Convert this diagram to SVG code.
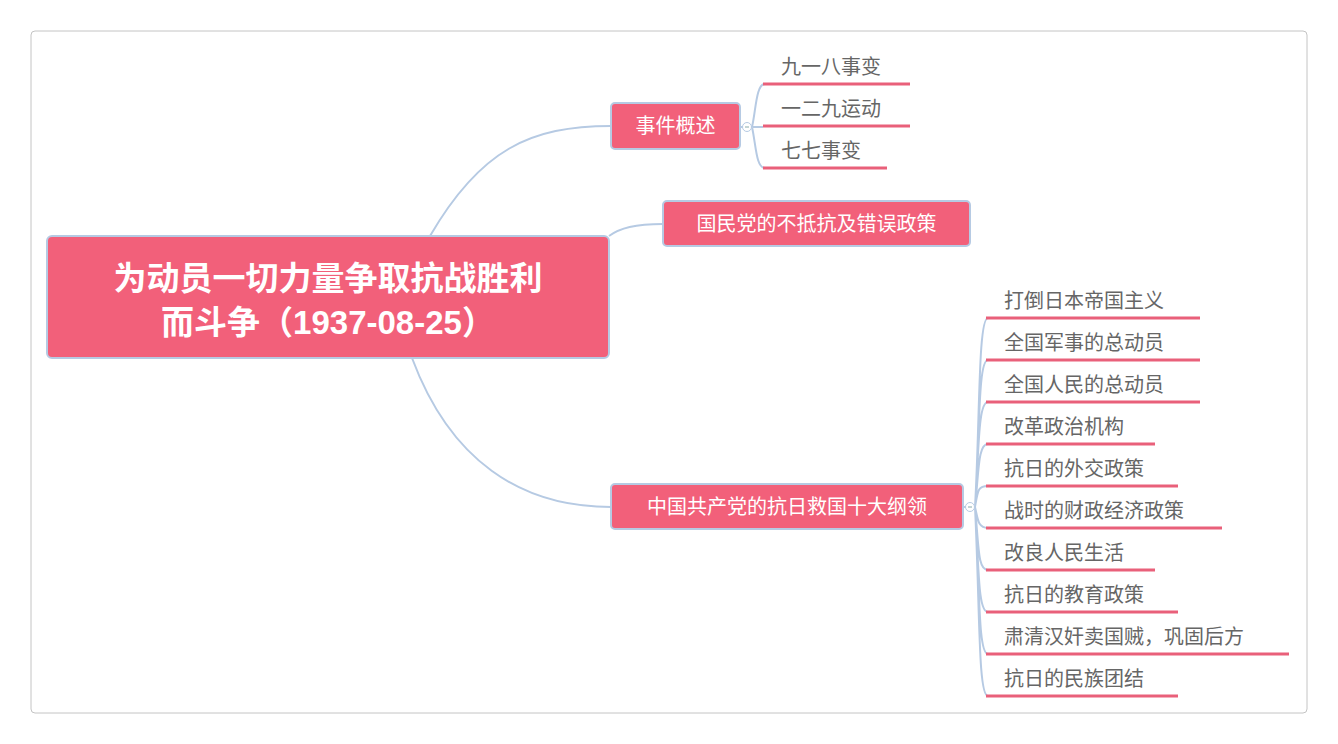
<svg xmlns="http://www.w3.org/2000/svg" width="1338" height="744" viewBox="0 0 1338 744">
<style>
.n{fill:#F2607A;stroke:#B6CAE3;stroke-width:2}
.t{font-family:"Noto Sans CJK SC","Liberation Sans",sans-serif;fill:#fff;font-size:20px}
.r{font-family:"Liberation Sans","Noto Sans CJK SC",sans-serif;fill:#fff;font-size:33px;font-weight:bold}
.l{font-family:"Noto Sans CJK SC","Liberation Sans",sans-serif;fill:#666;font-size:20px}
.u{stroke:#E9607A;stroke-width:3}
.c{fill:none;stroke:#B6CAE3;stroke-width:2}
.k{fill:#fff;stroke:#B6CAE3;stroke-width:1}
</style>
<rect x="31" y="31" width="1276" height="682" rx="4" fill="#fff" stroke="#c4c4c4"/>
<g id="connectors">
<path class="c" d="M430 236 C480 150 530 126 611 126"/>
<path class="c" d="M609 236 C620 228 635 224 663 224"/>
<path class="c" d="M412 358 C450 460 520 507 611 507"/>
<path class="c" d="M740 127 H752"/>
<path class="c" d="M752 127 C756 110 756 84 765 84 M752 127 H763 M752 127 C756 145 756 168 765 168"/>
<path class="c" d="M963 507 H975"/>
<path class="c" d="M975 507 C980 420 978 318 988 318 M975 507 C980 430 978 360 988 360 M975 507 C979 450 978 402 988 402 M975 507 C979 470 978 444 988 444 M975 507 C978 490 978 486 988 486 M975 507 C978 520 978 528 988 528 M975 507 C979 550 978 570 988 570 M975 507 C979 570 978 612 988 612 M975 507 C980 590 978 654 988 654 M975 507 C980 610 978 696 988 696"/>
<circle class="k" cx="747" cy="127" r="4.5"/><path d="M745 127h4" stroke="#8aa" stroke-width="1"/>
<circle class="k" cx="970" cy="507" r="4.5"/><path d="M968 507h4" stroke="#8aa" stroke-width="1"/>
</g>
<g id="root"><rect class="n" x="47" y="236" width="562" height="122" rx="5"/>
<text class="r" x="328" y="290" text-anchor="middle">为动员一切力量争取抗战胜利</text>
<text class="r" x="328" y="334" text-anchor="middle">而斗争（1937-08-25）</text></g>
<g id="n1"><rect class="n" x="611" y="103" width="129" height="46" rx="4"/><text class="t" x="675.5" y="133" text-anchor="middle">事件概述</text></g>
<g id="n2"><rect class="n" x="663" y="201" width="307" height="45" rx="4"/><text class="t" x="816.5" y="231" text-anchor="middle">国民党的不抵抗及错误政策</text></g>
<g id="n3"><rect class="n" x="611" y="484" width="352" height="45" rx="4"/><text class="t" x="787" y="514" text-anchor="middle">中国共产党的抗日救国十大纲领</text></g>
<g id="leaves1">
<line class="u" x1="763" y1="84" x2="910" y2="84"/><text class="l" x="781" y="74">九一八事变</text>
<line class="u" x1="763" y1="126" x2="910" y2="126"/><text class="l" x="781" y="116">一二九运动</text>
<line class="u" x1="763" y1="168" x2="887" y2="168"/><text class="l" x="781" y="158">七七事变</text>
</g>
<g id="leaves3">
<line class="u" x1="986" y1="318" x2="1200" y2="318"/><text class="l" x="1004" y="308">打倒日本帝国主义</text>
<line class="u" x1="986" y1="360" x2="1200" y2="360"/><text class="l" x="1004" y="350">全国军事的总动员</text>
<line class="u" x1="986" y1="402" x2="1200" y2="402"/><text class="l" x="1004" y="392">全国人民的总动员</text>
<line class="u" x1="986" y1="444" x2="1155" y2="444"/><text class="l" x="1004" y="434">改革政治机构</text>
<line class="u" x1="986" y1="486" x2="1178" y2="486"/><text class="l" x="1004" y="476">抗日的外交政策</text>
<line class="u" x1="986" y1="528" x2="1222" y2="528"/><text class="l" x="1004" y="518">战时的财政经济政策</text>
<line class="u" x1="986" y1="570" x2="1155" y2="570"/><text class="l" x="1004" y="560">改良人民生活</text>
<line class="u" x1="986" y1="612" x2="1178" y2="612"/><text class="l" x="1004" y="602">抗日的教育政策</text>
<line class="u" x1="986" y1="654" x2="1289" y2="654"/><text class="l" x="1004" y="644">肃清汉奸卖国贼，巩固后方</text>
<line class="u" x1="986" y1="696" x2="1178" y2="696"/><text class="l" x="1004" y="686">抗日的民族团结</text>
</g>
</svg>
